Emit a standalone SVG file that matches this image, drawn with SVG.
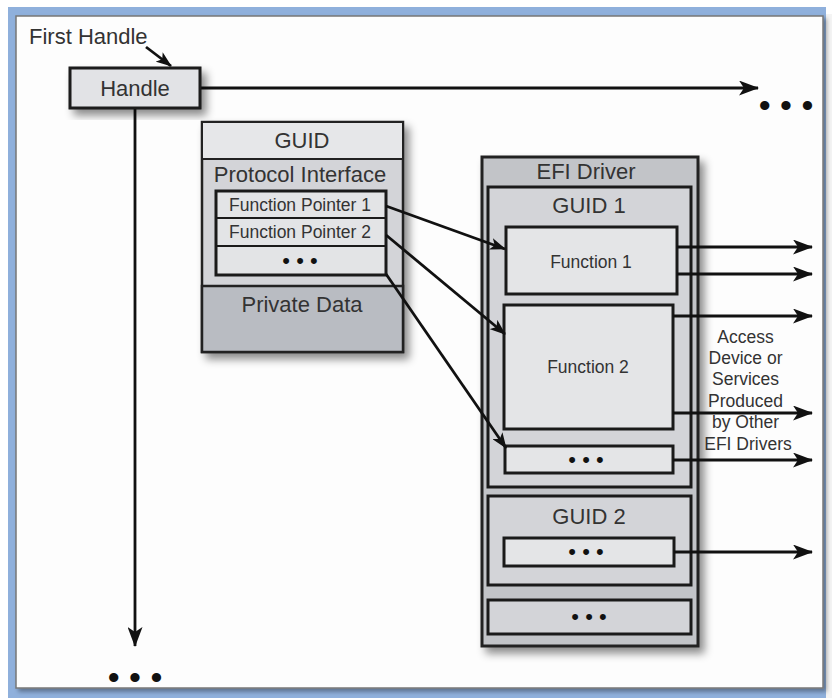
<svg xmlns="http://www.w3.org/2000/svg" width="832" height="698" viewBox="0 0 832 698">
<defs>
<filter id="sh" x="-20%" y="-20%" width="150%" height="150%">
<feDropShadow dx="5" dy="6" stdDeviation="4" flood-color="#000" flood-opacity="0.45"/>
</filter>
<filter id="fsh" x="-5%" y="-5%" width="115%" height="115%">
<feDropShadow dx="3" dy="3" stdDeviation="2" flood-color="#000" flood-opacity="0.35"/>
</filter>
<marker id="ah" viewBox="0 0 20 15" refX="19" refY="7.5" markerWidth="20" markerHeight="15" markerUnits="userSpaceOnUse" orient="auto">
<path d="M0,0 L20,7.5 L0,15 L5,7.5 Z" fill="#111"/>
</marker>
<marker id="ahs" viewBox="0 0 16 12" refX="15" refY="6" markerWidth="16" markerHeight="12" markerUnits="userSpaceOnUse" orient="auto">
<path d="M0,0 L16,6 L0,12 L4,6 Z" fill="#111"/>
</marker>
</defs>
<style>
text{font-family:"Liberation Sans",Arial,sans-serif;fill:#333}
.b{stroke:#1a1a1a;stroke-width:3}
.t21{font-size:22px}
.t17{font-size:17.5px}
.fp{font-size:17.5px}
.c{text-anchor:middle}
.ln{stroke:#111;stroke-width:2.8;fill:none}
.dot{font-size:22px;fill:#111;text-anchor:middle}
.bdot{font-size:34px;fill:#111;text-anchor:middle}
</style>

<!-- frame -->
<rect x="0" y="0" width="832" height="698" fill="#ffffff"/>
<rect x="8" y="7" width="818" height="691" fill="#8fb0dc"/>
<rect x="826" y="14" width="6" height="684" fill="#f4f4f4"/>
<rect x="16" y="16" width="807" height="672" fill="#fdfdfd" stroke="#777" stroke-width="1.5" filter="url(#fsh)"/>

<!-- connectors -->
<g id="connectors">
<line class="ln" x1="146" y1="47" x2="171" y2="66" marker-end="url(#ahs)"/>
<line class="ln" x1="200" y1="88" x2="758" y2="88" marker-end="url(#ah)"/>
<line class="ln" x1="135" y1="108" x2="135" y2="646" marker-end="url(#ah)"/>
</g>

<g id="handle">
<rect x="70" y="68" width="130" height="40" fill="#e2e3e6" class="b" filter="url(#sh)"/>
<text x="135" y="96" class="t21 c">Handle</text>
</g>
<g id="first-handle"><text x="29" y="44" class="t21">First Handle</text></g>
<g id="more-handles"><text x="786" y="117" class="bdot">• • •</text></g>
<g id="more-down"><text x="135" y="689" class="bdot">• • •</text></g>

<!-- protocol -->
<g id="protocol">
<g filter="url(#sh)">
<rect x="202" y="122" width="201" height="230" fill="#d3d4d8" stroke="#222" stroke-width="2.5"/>
</g>
<rect x="202" y="122" width="201" height="37" fill="#e6e7e9" stroke="#222" stroke-width="2"/>
<rect x="202" y="286" width="201" height="66" fill="#b9bcc2" stroke="#222" stroke-width="2.5"/>
<text x="302" y="148" class="t21 c">GUID</text>
<text x="300" y="182" class="t21 c">Protocol Interface</text>
<rect x="216" y="191" width="170" height="84" fill="#e3e4e6" class="b"/>
<line x1="216" y1="218" x2="386" y2="218" stroke="#1a1a1a" stroke-width="2"/>
<line x1="216" y1="246" x2="386" y2="246" stroke="#1a1a1a" stroke-width="2"/>
<text x="300" y="211" class="fp c">Function Pointer 1</text>
<text x="300" y="238" class="fp c">Function Pointer 2</text>
<text x="300" y="268" class="dot">• • •</text>
<text x="302" y="312" class="t21 c">Private Data</text>
</g>

<!-- EFI driver -->
<g id="efi-driver">
<rect x="482" y="157" width="216" height="489" fill="#c2c4c8" stroke="#222" stroke-width="3" filter="url(#sh)"/>
<text x="586" y="179" class="t21 c">EFI Driver</text>
</g>
<g id="guid1">
<rect x="488" y="187" width="203" height="300" fill="#d3d4d8" class="b"/>
<text x="589" y="213" class="t21 c">GUID 1</text>
</g>
<g id="function1">
<rect x="506" y="227" width="171" height="67" fill="#e4e5e7" class="b"/>
<text x="591" y="268" class="t17 c">Function 1</text>
</g>
<g id="function2">
<rect x="504" y="305" width="169" height="124" fill="#e4e5e7" class="b"/>
<text x="588" y="373" class="t17 c">Function 2</text>
</g>
<g id="function-more">
<rect x="505" y="446" width="168" height="27" fill="#e4e5e7" class="b"/>
<text x="586" y="467" class="dot">• • •</text>
</g>
<g id="guid2">
<rect x="488" y="496" width="203" height="89" fill="#d3d4d8" class="b"/>
<text x="589" y="524" class="t21 c">GUID 2</text>
</g>
<g id="guid2-more">
<rect x="504" y="538" width="170" height="28" fill="#e4e5e7" class="b"/>
<text x="586" y="559" class="dot">• • •</text>
</g>
<g id="guid-more">
<rect x="488" y="600" width="203" height="34" fill="#d3d4d8" class="b"/>
<text x="589" y="624" class="dot">• • •</text>
</g>

<g id="links">
<line class="ln" x1="386" y1="206" x2="505" y2="249" marker-end="url(#ahs)"/>
<line class="ln" x1="386" y1="235" x2="505" y2="334" marker-end="url(#ahs)"/>
<line class="ln" x1="386" y1="274" x2="506" y2="448" marker-end="url(#ahs)"/>
<line class="ln" x1="677" y1="247" x2="812" y2="247" marker-end="url(#ah)"/>
<line class="ln" x1="677" y1="274" x2="812" y2="274" marker-end="url(#ah)"/>
<line class="ln" x1="673" y1="316" x2="812" y2="316" marker-end="url(#ah)"/>
<line class="ln" x1="673" y1="413" x2="812" y2="413" marker-end="url(#ah)"/>
<line class="ln" x1="673" y1="460" x2="812" y2="460" marker-end="url(#ah)"/>
<line class="ln" x1="674" y1="552" x2="812" y2="552" marker-end="url(#ah)"/>
</g>

<g id="access-label">
<text class="t17 c" x="748">
<tspan x="748" y="343">Access</tspan>
<tspan x="748" y="364">Device or</tspan>
<tspan x="748" y="385">Services</tspan>
<tspan x="748" y="407">Produced</tspan>
<tspan x="748" y="428">by Other</tspan>
<tspan x="748" y="450">EFI Drivers</tspan>
</text>
</g>
</svg>
